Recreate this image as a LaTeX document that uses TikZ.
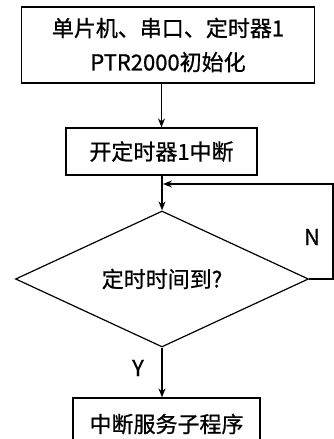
\documentclass[tikz,border=0pt]{standalone}
\usepackage{fontspec}
\setmainfont{Noto Sans CJK SC}[FakeBold=0.8]
\usetikzlibrary{
		arrows.meta,
		shapes.geometric,
		positioning
	}
\tikzset{
		>={Stealth[length=9pt,width=7pt]}
	}

\begin{document}
\begin{tikzpicture}[x=1pt,y=1pt,line width=1.2pt,
    box/.style={draw,rectangle,inner sep=0pt,font=\fontsize{22}{34}\selectfont,align=center},
    lbl/.style={font=\fontsize{22}{24}\selectfont}]
          \useasboundingbox (0,0) rectangle (334,439);
          \clip (0,0) rectangle (334,439);

          \node[box,minimum width=293,minimum height=76] (init) at (168,394) {单片机、串口、定时器1\\PTR2000初始化};
          \node[box,minimum width=191,minimum height=47] (tmr) at (161.5,287.5) {开定时器1中断};
          \node[draw,diamond,aspect=2.15,minimum width=293,minimum height=136,inner sep=0pt,
                font=\fontsize{22}{24}\selectfont] (dec) at (162,160) {定时时间到?};
          \node[box,minimum width=187,minimum height=52] (isr) at (166.5,15) {中断服务子程序};

          \coordinate (R1) at (333,160);
          \coordinate (R2) at (333,255);
          \coordinate (J) at (162,255);

          \draw[->] (init.south -| tmr) -- (tmr.north);
          \draw[->] (tmr.south -| dec) -- (dec.north);
          \draw[->] (dec.south) -- (dec.south |- isr.north);
          \draw[->] (dec.east) -- (R1) -- (R2) -- ([xshift=1pt]J);% back into the main line

          \node[lbl] (n) at (312,202) {N};
          \node[lbl] (y) at (138,71) {Y};

          \end{tikzpicture}
\end{document}
